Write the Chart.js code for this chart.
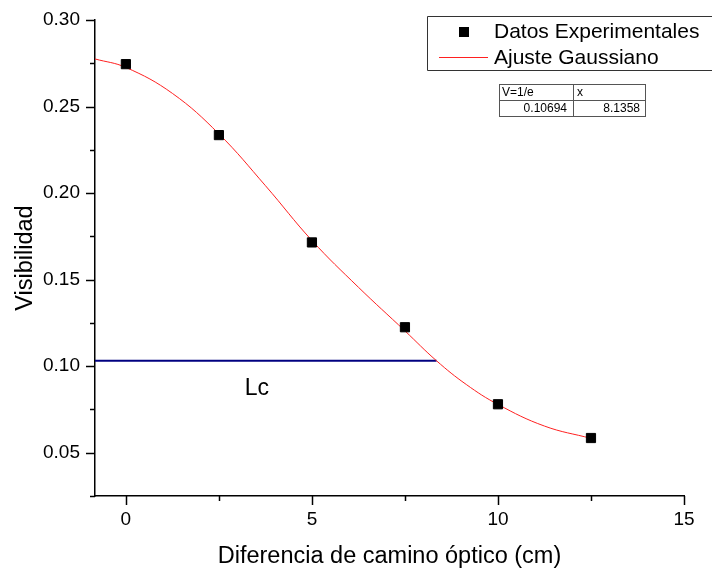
<!DOCTYPE html>
<html>
<head>
<meta charset="utf-8">
<title>Visibilidad</title>
<script src="https://cdn.jsdelivr.net/npm/chart.js@4/dist/chart.umd.min.js"></script>
<style>
  body { margin: 0; background: #fff; }
  #wrap { width: 712px; height: 571px; }
</style>
</head>
<body>
<div id="wrap"><canvas id="visChart" width="712" height="571"></canvas></div>
<script>
// measured points
const xPoints = [0, 2.5, 5, 7.5, 10, 12.5];
const visibilidad = [0.2745, 0.2335, 0.1715, 0.1225, 0.078, 0.0585];

// gaussian fit curve
const fitX = [-0.83, 0, 1.25, 2.5, 3.75, 5, 6.25, 7.5, 8.35, 9.15, 10, 11.25, 12.5];
const fitY = [0.2775, 0.2726, 0.2576, 0.2342, 0.2043, 0.1726, 0.1456, 0.1204, 0.1031, 0.0894, 0.0779, 0.0654, 0.0583];

// coherence length marker
const lcX = [-0.83, 8.35];
const lcY = [0.1031, 0.1031];

const xTicks = [0, 2.5, 5, 7.5, 10, 12.5, 15];
const yTicks = [0.025, 0.05, 0.075, 0.10, 0.125, 0.15, 0.175, 0.20, 0.225, 0.25, 0.275, 0.30];

const legendLabels = ['Datos Experimentales', 'Ajuste Gaussiano'];
const tableHead = ['V=1/e', 'x'];
const tableVals = ['0.10694', '8.1358'];

const FONT = "'Liberation Sans', Arial, sans-serif";
const ctx = document.getElementById('visChart').getContext('2d');

const isMajor = (v, step) => Math.abs(v / step - Math.round(v / step)) < 1e-6;

const decor = {
    id: 'decor',
    afterDraw(chart) {
        const c = chart.ctx;
        const { x, y } = chart.scales;
        const area = chart.chartArea;
        c.save();
        c.strokeStyle = '#000';
        c.lineWidth = 1.5;
        xTicks.forEach(v => {
            const px = Math.round(x.getPixelForValue(v)) + 0.5;
            const len = isMajor(v, 5) ? 9 : 5;
            c.beginPath();
            c.moveTo(px, area.bottom);
            c.lineTo(px, area.bottom + len);
            c.stroke();
        });
        yTicks.forEach(v => {
            const py = Math.round(y.getPixelForValue(v)) + 0.5;
            const len = isMajor(v, 0.05) ? 9 : 5;
            c.beginPath();
            c.moveTo(area.left, py);
            c.lineTo(area.left - len, py);
            c.stroke();
        });

        // Lc label
        c.fillStyle = '#000';
        c.font = '23px ' + FONT;
        c.textAlign = 'center';
        c.textBaseline = 'alphabetic';
        c.fillText('Lc', x.getPixelForValue(3.52), y.getPixelForValue(0.0835));

        // legend box
        c.strokeStyle = '#333';
        c.lineWidth = 1;
        c.beginPath();
        c.moveTo(712, 16.5);
        c.lineTo(427.5, 16.5);
        c.lineTo(427.5, 70.5);
        c.lineTo(712, 70.5);
        c.stroke();
        c.fillStyle = '#000';
        c.fillRect(459, 27, 10, 10);
        c.strokeStyle = '#ff2020';
        c.beginPath();
        c.moveTo(439, 57.5);
        c.lineTo(488, 57.5);
        c.stroke();
        c.font = '21px ' + FONT;
        c.textAlign = 'left';
        c.fillText(legendLabels[0], 494, 38);
        c.fillText(legendLabels[1], 494, 64);

        // value table
        c.strokeStyle = '#555';
        c.strokeRect(499.5, 84.5, 146, 32);
        c.beginPath();
        c.moveTo(573.5, 84.5);
        c.lineTo(573.5, 116.5);
        c.moveTo(499.5, 100.5);
        c.lineTo(645.5, 100.5);
        c.stroke();
        c.font = '12px ' + FONT;
        c.fillText(tableHead[0], 502, 96);
        c.fillText(tableHead[1], 577, 96);
        c.textAlign = 'right';
        c.fillText(tableVals[0], 567, 112);
        c.fillText(tableVals[1], 640, 112);
        c.restore();
    }
};

new Chart(ctx, {
    type: 'scatter',
    data: {
        datasets: [
            {
                label: legendLabels[0],
                data: xPoints.map((v, i) => ({ x: v, y: visibilidad[i] })),
                pointStyle: 'rect',
                pointRadius: 6.5,
                backgroundColor: '#000',
                borderColor: '#000',
                borderWidth: 1,
                order: 0
            },
            {
                label: legendLabels[1],
                data: fitX.map((v, i) => ({ x: v, y: fitY[i] })),
                showLine: true,
                tension: 0.4,
                borderColor: '#ff2020',
                borderWidth: 1,
                pointRadius: 0,
                order: 1
            },
            {
                label: 'Lc',
                data: lcX.map((v, i) => ({ x: v, y: lcY[i] })),
                showLine: true,
                borderColor: '#000080',
                borderWidth: 2,
                pointRadius: 0,
                order: 2
            }
        ]
    },
    options: {
        responsive: false,
        animation: false,
        layout: {
            padding: { top: 20, right: 28, left: 0, bottom: 0 }
        },
        plugins: {
            legend: { display: false },
            tooltip: { enabled: false }
        },
        scales: {
            x: {
                type: 'linear',
                min: -0.83,
                max: 15,
                afterBuildTicks: scale => {
                    scale.ticks = xTicks.map(v => ({ value: v }));
                },
                afterFit: scale => {
                    scale.height = 75;
                    scale.paddingLeft = 0;
                    scale.paddingRight = 0;
                },
                grid: { display: false, drawTicks: false },
                border: { display: true, color: '#000', width: 1.5 },
                ticks: {
                    padding: 12,
                    color: '#000',
                    font: { family: FONT, size: 19 },
                    callback: v => isMajor(v, 5) ? String(v) : ''
                },
                title: {
                    display: true,
                    text: 'Diferencia de camino óptico (cm)',
                    color: '#000',
                    font: { family: FONT, size: 23.5, lineHeight: 1.2 },
                    padding: { top: 0, bottom: 0 }
                }
            },
            y: {
                type: 'linear',
                min: 0.025,
                max: 0.30,
                afterBuildTicks: scale => {
                    scale.ticks = yTicks.map(v => ({ value: v }));
                },
                afterFit: scale => {
                    scale.width = 95;
                    scale.paddingTop = 0;
                    scale.paddingBottom = 0;
                },
                grid: { display: false, drawTicks: false },
                border: { display: true, color: '#000', width: 1.5 },
                ticks: {
                    padding: 15,
                    color: '#000',
                    font: { family: FONT, size: 19 },
                    callback: v => isMajor(v, 0.05) ? v.toFixed(2) : ''
                },
                title: {
                    display: true,
                    text: 'Visibilidad',
                    color: '#000',
                    font: { family: FONT, size: 23.5, lineHeight: 1.2 },
                    padding: { top: 11, bottom: 0 }
                }
            }
        }
    },
    plugins: [decor]
});
</script>
</body>
</html>
